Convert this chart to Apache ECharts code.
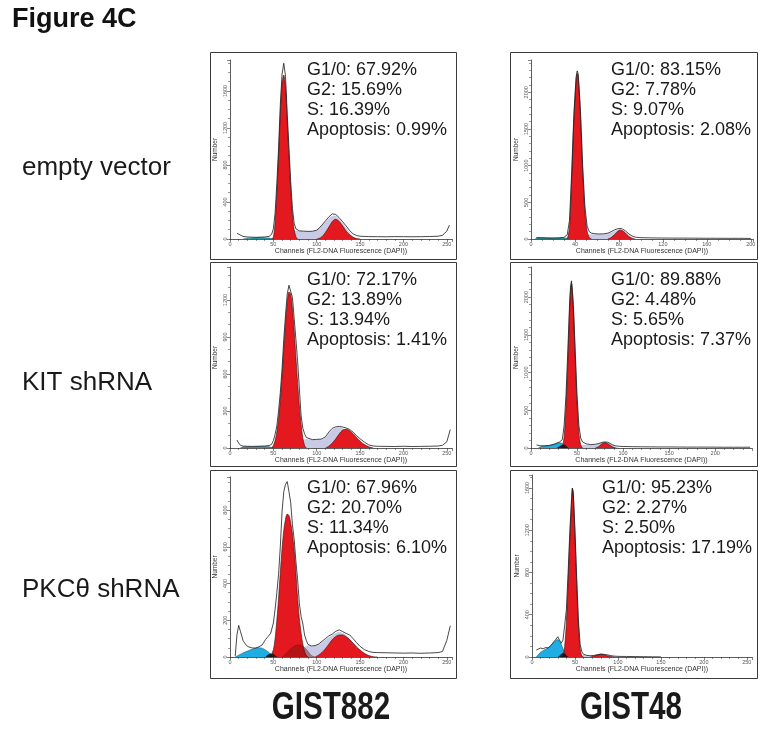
<!DOCTYPE html>
<html><head><meta charset="utf-8">
<script src="https://cdn.jsdelivr.net/npm/echarts@6/dist/echarts.min.js"></script>
<style>html,body{margin:0;padding:0;background:#fff}#c{width:770px;height:732px}</style>
</head><body><div id="c"></div><script>
// ---------- text ----------
const figTitle = "Figure 4C";
const rowLabels = ["empty vector", "KIT shRNA", "PKC\u03b8 shRNA"];
const colLabels = ["GIST882", "GIST48"];
const xAxisTitle = "Channels (FL2-DNA Fluorescence (DAPI))";
const yAxisTitle = "Number";
const stats = [
  ["G1/0: 67.92%", "G2: 15.69%", "S: 16.39%", "Apoptosis: 0.99%"],
  ["G1/0: 83.15%", "G2: 7.78%", "S: 9.07%", "Apoptosis: 2.08%"],
  ["G1/0: 72.17%", "G2: 13.89%", "S: 13.94%", "Apoptosis: 1.41%"],
  ["G1/0: 89.88%", "G2: 4.48%", "S: 5.65%", "Apoptosis: 7.37%"],
  ["G1/0: 67.96%", "G2: 20.70%", "S: 11.34%", "Apoptosis: 6.10%"],
  ["G1/0: 95.23%", "G2: 2.27%", "S: 2.50%", "Apoptosis: 17.19%"]
];
// axis ranges
const xMaxes = [256, 202, 256, 240, 256, 256];
const xIntervals = [50, 40, 50, 50, 50, 50];
const yMaxes = [1935, 2440, 1468, 2400, 980, 1723];
const yIntervals = [400, 500, 300, 500, 200, 400];

// ---------- data: [channel, count] ----------
// Panel 1: GIST882 empty vector
const p1Total = [[8,62],[10,50],[15,28],[20,22],[25,20],[30,18],[35,20],[40,22],[45,28],[48,50],[50,110],[52,280],[54,600],[56,980],[58,1450],[60,1780],[62,1900],[64,1760],[66,1350],[68,980],[70,620],[72,330],[74,170],[76,110],[78,95],[80,88],[85,85],[90,82],[95,84],[100,95],[103,120],[106,150],[110,195],[114,240],[118,272],[120,278],[122,265],[124,250],[126,230],[130,185],[134,140],[138,90],[142,55],[146,38],[150,30],[160,26],[170,25],[180,24],[190,26],[200,25],[210,24],[220,25],[230,27],[240,30],[245,40],[250,85],[253,150]];
const p1G1 = [[48,0],[50,20],[52,180],[54,500],[56,900],[58,1350],[60,1680],[62,1773],[64,1650],[66,1280],[68,900],[70,540],[72,260],[74,100],[76,25],[78,0]];
const p1G2 = [[100,0],[103,8],[106,25],[110,70],[114,130],[118,190],[120,208],[122,213],[124,205],[126,190],[130,140],[134,85],[138,45],[142,18],[146,5],[150,0]];
const p1S = [[58,0],[62,60],[66,75],[70,85],[74,92],[78,92],[80,88],[85,85],[90,82],[95,84],[100,95],[103,118],[106,145],[110,185],[114,225],[118,250],[120,255],[122,250],[124,235],[126,215],[130,170],[134,120],[138,70],[142,30],[146,0]];
const p1Apop = [[15,0],[20,8],[25,12],[30,14],[35,15],[40,14],[45,10],[48,5],[50,0]];

// Panel 2: GIST48 empty vector
const p2Total = [[5,20],[10,18],[15,15],[20,14],[25,16],[30,22],[33,60],[35,250],[37,900],[39,1700],[41,2200],[42,2292],[43,2250],[45,1750],[47,1000],[49,450],[51,180],[53,100],[55,80],[58,72],[62,68],[66,70],[70,80],[73,100],[76,125],[79,140],[81,145],[83,138],[86,110],[89,70],[92,40],[95,25],[100,18],[110,15],[120,13],[130,12],[140,12],[150,11],[160,10],[170,10],[180,9],[190,9],[200,8]];
const p2G1 = [[33,0],[35,150],[37,820],[39,1620],[41,2150],[42,2257],[43,2200],[45,1680],[47,930],[49,380],[51,110],[53,20],[55,0]];
const p2G2 = [[70,0],[73,20],[76,60],[79,105],[81,123],[83,115],[86,80],[89,35],[92,8],[95,0]];
const p2S = [[43,0],[45,40],[47,55],[49,60],[51,62],[53,65],[58,65],[62,64],[66,66],[70,75],[73,90],[76,110],[79,125],[81,128],[83,120],[86,95],[89,55],[92,25],[95,0]];
const p2Apop = [[4,0],[5,15],[10,14],[15,12],[20,10],[25,12],[30,15],[33,10],[35,0]];

// Panel 3: GIST882 KIT shRNA
const p3Total = [[8,65],[10,40],[12,22],[15,15],[20,14],[25,13],[30,14],[35,15],[40,16],[45,20],[48,30],[50,60],[52,110],[54,180],[56,300],[58,450],[60,640],[62,880],[64,1080],[66,1250],[68,1320],[70,1336],[72,1220],[74,1050],[76,880],[78,700],[80,480],[82,260],[84,160],[86,115],[88,85],[90,72],[95,68],[100,70],[105,72],[110,90],[114,130],[118,160],[122,172],[126,175],[130,170],[134,162],[138,150],[142,128],[146,100],[150,75],[155,48],[160,25],[165,16],[170,14],[180,13],[190,12],[200,14],[210,12],[220,13],[230,14],[240,16],[245,22],[250,50],[254,150]];
const p3G1 = [[48,0],[50,20],[52,60],[54,130],[56,240],[58,390],[60,580],[62,800],[64,1010],[66,1180],[68,1265],[70,1250],[72,1130],[74,950],[76,740],[78,530],[80,340],[82,190],[84,80],[86,20],[88,0]];
const p3G2 = [[110,0],[114,15],[118,40],[122,75],[126,115],[130,145],[134,152],[138,140],[142,115],[146,85],[150,55],[155,28],[160,10],[165,0]];
const p3S = [[56,0],[60,40],[64,50],[68,52],[72,54],[76,55],[80,62],[84,68],[88,72],[90,70],[95,66],[100,68],[105,70],[110,85],[114,120],[118,150],[122,165],[126,168],[130,160],[134,140],[138,110],[142,70],[146,35],[150,10],[155,0]];
const p3Apop = [[12,0],[15,8],[20,10],[25,10],[30,11],[35,12],[40,12],[45,10],[48,5],[50,0]];

// Panel 4: GIST48 KIT shRNA
const p4Total = [[6,40],[8,35],[10,30],[15,30],[20,35],[25,50],[28,65],[31,80],[34,110],[36,300],[38,700],[40,1300],[42,1950],[43,2150],[44,2217],[46,1900],[48,1300],[50,700],[52,300],[54,130],[56,80],[60,55],[65,45],[70,50],[73,58],[76,70],[79,80],[81,82],[83,78],[86,60],[89,40],[92,28],[96,22],[100,20],[110,18],[120,16],[130,15],[140,14],[150,14],[160,13],[170,12],[180,12],[190,12],[200,11],[210,10],[220,10],[230,10],[238,10]];
const p4G1 = [[34,0],[36,150],[38,550],[40,1150],[42,1850],[43,2100],[44,2182],[46,1850],[48,1200],[50,600],[52,200],[54,40],[56,0]];
const p4G2 = [[70,0],[73,15],[76,45],[79,68],[81,70],[83,60],[86,35],[89,12],[92,0]];
const p4S = [[44,0],[46,30],[50,38],[54,40],[60,42],[65,42],[70,45],[73,55],[76,65],[79,75],[81,78],[83,72],[86,55],[89,35],[92,15],[96,0]];
const p4Apop = [[8,0],[10,15],[15,25],[20,33],[25,48],[28,60],[31,70],[34,60],[36,40],[38,20],[40,0]];
const p4Overlap = [[28,0],[31,20],[34,40],[36,40],[38,30],[40,0]];

// Panel 5: GIST882 PKCtheta shRNA
const p5Total = [[6,5],[8,120],[10,172],[12,140],[15,90],[18,68],[21,56],[25,50],[29,48],[33,55],[37,65],[41,95],[44,112],[47,130],[50,185],[52,260],[54,350],[56,450],[58,600],[60,790],[62,900],[64,940],[66,955],[68,900],[70,840],[72,720],[74,640],[76,520],[78,420],[80,290],[82,220],[84,180],[86,120],[88,90],[90,68],[94,60],[98,62],[102,70],[106,85],[110,100],[114,115],[118,125],[122,140],[126,148],[130,138],[134,128],[138,120],[142,100],[146,78],[150,58],[155,40],[160,30],[165,25],[170,24],[180,23],[190,22],[200,21],[210,22],[220,20],[230,22],[240,24],[245,30],[250,90],[254,170]];
const p5G1 = [[46,0],[47,5],[50,40],[52,100],[54,200],[56,320],[58,460],[60,590],[62,690],[64,750],[66,778],[68,770],[70,730],[72,670],[74,580],[76,460],[78,320],[80,210],[82,130],[84,70],[86,30],[88,8],[90,0]];
const p5G2 = [[98,0],[102,10],[106,25],[110,45],[114,70],[118,95],[122,112],[126,120],[130,120],[134,110],[138,95],[142,75],[146,55],[150,38],[155,20],[160,8],[165,2],[170,0]];
const p5S = [[60,0],[64,15],[68,18],[72,22],[76,28],[80,32],[84,45],[86,55],[88,60],[90,62],[94,58],[98,60],[102,68],[106,80],[110,95],[114,108],[118,118],[122,130],[126,138],[130,130],[134,118],[138,100],[142,75],[146,50],[150,25],[155,0]];
const p5Apop = [[6,0],[8,5],[10,10],[12,15],[15,22],[18,28],[21,34],[25,42],[29,48],[33,51],[37,48],[41,38],[44,28],[47,15],[50,5],[52,0]];
const p5Overlap = [[41,0],[44,12],[47,18],[50,15],[52,8],[54,0]];
const p5Aggr = [[60,0],[64,15],[68,35],[72,52],[76,62],[80,65],[84,58],[88,42],[90,30],[94,8],[98,0]];

// Panel 6: GIST48 PKCtheta shRNA
const p6Total = [[5,66],[7,80],[10,85],[13,78],[16,90],[19,85],[22,110],[25,140],[28,170],[30,192],[32,160],[34,130],[36,160],[38,300],[40,450],[42,800],[44,1190],[46,1500],[47,1600],[48,1560],[50,1200],[52,750],[54,350],[56,120],[58,50],[60,25],[64,15],[68,12],[72,15],[76,22],[80,28],[84,25],[88,20],[92,12],[96,8],[100,6],[110,5],[120,4],[130,3],[140,2],[150,1]];
const p6G1 = [[36,0],[38,100],[40,330],[42,700],[44,1100],[46,1450],[47,1597],[48,1540],[50,1150],[52,700],[54,300],[56,80],[58,10],[60,0]];
const p6G2 = [[68,0],[72,8],[76,18],[80,25],[84,20],[88,10],[92,2],[96,0]];
const p6S = [[48,0],[50,15],[54,18],[58,18],[60,18],[64,14],[68,12],[72,14],[76,20],[80,26],[84,24],[88,18],[92,10],[96,4],[100,0]];
const p6Apop = [[5,0],[7,20],[10,45],[13,60],[16,75],[19,90],[22,110],[25,135],[28,158],[30,165],[32,150],[34,120],[36,80],[38,45],[40,15],[42,0]];
const p6Overlap = [[30,0],[32,10],[34,25],[36,35],[38,30],[40,15],[42,0]];

const panelData = [
  {total:p1Total, g1:p1G1, g2:p1G2, s:p1S, apop:p1Apop},
  {total:p2Total, g1:p2G1, g2:p2G2, s:p2S, apop:p2Apop},
  {total:p3Total, g1:p3G1, g2:p3G2, s:p3S, apop:p3Apop},
  {total:p4Total, g1:p4G1, g2:p4G2, s:p4S, apop:p4Apop, overlap:p4Overlap},
  {total:p5Total, g1:p5G1, g2:p5G2, s:p5S, apop:p5Apop, overlap:p5Overlap, aggr:p5Aggr},
  {total:p6Total, g1:p6G1, g2:p6G2, s:p6S, apop:p6Apop, overlap:p6Overlap}
];

// ---------- layout (pixels) ----------
const grids = [
  {left:230, top:60,  width:222, height:179},
  {left:531, top:60,  width:222, height:179},
  {left:230, top:267, width:222, height:181},
  {left:531, top:267, width:221, height:181},
  {left:230, top:477, width:222, height:180},
  {left:532, top:475, width:220, height:182}
];
const frames = [
  [210,52,246,207],[510,52,247,207],
  [210,262,246,204],[510,262,247,204],
  [210,470,246,208],[510,470,247,208]
];
const statPos = [[307,60],[611,60],[307,270],[611,270],[307,478],[602,478]];

const FONT = '"Liberation Sans", Arial, Helvetica, sans-serif';
const xMinorSplit = [5,4,5,5,5,5];
const yMinorSplit = [4,5,3,5,4,4];
const plain = v => String(v);

const xAxes = [], yAxes = [], series = [];
grids.forEach((g, i) => {
  xAxes.push({
    type:'value', gridIndex:i, min:0, max:xMaxes[i], interval:xIntervals[i],
    name:xAxisTitle, nameLocation:'middle', nameGap:9,
    nameTextStyle:{fontSize:7, color:'#333', fontFamily:FONT},
    axisLine:{show:true, lineStyle:{color:'#333', width:0.8}},
    axisTick:{show:true, length:3, lineStyle:{color:'#333', width:0.6}},
    minorTick:{show:true, splitNumber:xMinorSplit[i], length:2, lineStyle:{color:'#333', width:0.5}},
    axisLabel:{fontSize:5.5, color:'#555', margin:2, showMaxLabel:false, fontFamily:FONT, formatter:plain},
    splitLine:{show:false}
  });
  yAxes.push({
    type:'value', gridIndex:i, min:0, max:yMaxes[i], interval:yIntervals[i],
    name:yAxisTitle, nameLocation:'middle', nameGap:11,
    nameTextStyle:{fontSize:6.5, color:'#333', fontFamily:FONT},
    axisLine:{show:true, lineStyle:{color:'#333', width:0.8}},
    axisTick:{show:true, length:3, lineStyle:{color:'#333', width:0.6}},
    minorTick:{show:true, splitNumber:yMinorSplit[i], length:2, lineStyle:{color:'#333', width:0.5}},
    axisLabel:{fontSize:5.5, color:'#555', margin:2, rotate:90, showMaxLabel:false, fontFamily:FONT, formatter:plain},
    splitLine:{show:false}
  });
  const d = panelData[i];
  const apopColor = i < 3 ? '#2b9fa6' : '#1eaee4';
  const area = (data, color, line, lw, op) => ({
    type:'line', xAxisIndex:i, yAxisIndex:i, data:data, showSymbol:false, silent:true,
    smooth:0.3, lineStyle:{color:line, width:lw}, areaStyle:{color:color, opacity:op == null ? 1 : op},
    z:2
  });
  series.push(area(d.s, '#c9cbe4', '#c9cbe4', 0));
  series.push(area(d.apop, apopColor, '#1b4a5a', 0.5));
  series.push(area(d.g1, '#e3191f', '#3a0b0b', 0.6));
  series.push(area(d.g2, '#e3191f', '#3a0b0b', 0.6));
  if (d.aggr) series.push(area(d.aggr, '#7a1010', '#5a0a0a', 0.3, 0.45));
  if (d.overlap) series.push(area(d.overlap, '#111', '#111', 0.3, 0.9));
  series.push({
    type:'line', xAxisIndex:i, yAxisIndex:i, data:d.total, showSymbol:false, silent:true,
    lineStyle:{color:'#1a1a1a', width:0.8}, z:3
  });
});

const graphic = [];
frames.forEach(f => graphic.push({
  type:'rect', shape:{x:f[0]+0.5, y:f[1]+0.5, width:f[2], height:f[3]},
  style:{fill:'none', stroke:'#3a3a3a', lineWidth:1}, z:10
}));
stats.forEach((lines, i) => graphic.push({
  type:'text', x:statPos[i][0], y:statPos[i][1], z:11,
  style:{text:lines.join('\n'), fontSize:18, fontFamily:FONT, fill:'#1a1a1a', lineHeight:20, verticalAlign:'top'}
}));
graphic.push({type:'text', x:12, y:20, z:11,
  style:{text:figTitle, fontSize:27, fontWeight:'bold', fontFamily:FONT, fill:'#111', verticalAlign:'middle'}});
[168, 383, 590].forEach((y, r) => graphic.push({
  type:'text', x:22, y:y, z:11,
  style:{text:rowLabels[r], fontSize:26, fontFamily:FONT, fill:'#1a1a1a', verticalAlign:'middle'}
}));
[331, 631].forEach((x, c) => graphic.push({
  type:'text', x:x, y:708, scaleX:0.76, z:11,
  style:{text:colLabels[c], fontSize:39, fontWeight:'bold', fontFamily:FONT,
    fill:'#1a1a1a', align:'center', verticalAlign:'middle'}
}));

const chart = echarts.init(document.getElementById('c'), null, {renderer:'canvas'});
chart.setOption({
  animation:false, backgroundColor:'#fff',
  grid:grids, xAxis:xAxes, yAxis:yAxes, series:series, graphic:graphic
});
</script></body></html>
